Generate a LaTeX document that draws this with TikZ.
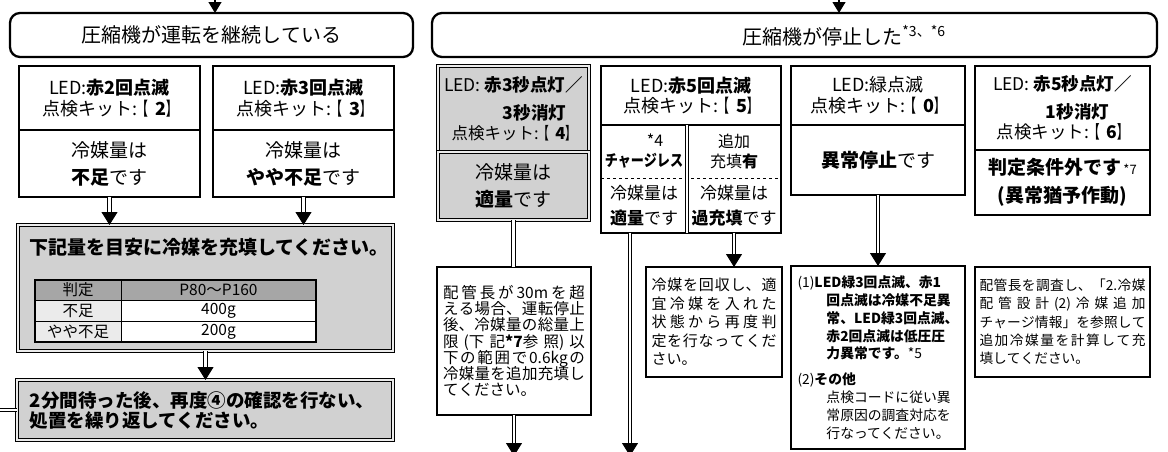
\documentclass[tikz,border=0pt]{standalone}
\usepackage{fontspec}
\setmainfont{Noto Sans CJK JP}
\usepackage{graphicx}
\usetikzlibrary{positioning, arrows.meta}

\newcommand\fshead{\fontsize{20}{27}\selectfont}
\newcommand\fsxl{\fontsize{19}{27}\selectfont\lineskiplimit=-20pt}
\newcommand\fsled{\fontsize{18}{20.5}\selectfont\lineskiplimit=-20pt}
\newcommand\fsledn{\fontsize{17.5}{20}\selectfont\lineskiplimit=-20pt}
\newcommand\fsmid{\fontsize{17}{25}\selectfont\lineskiplimit=-20pt}
\newcommand\fsnote{\fontsize{15.5}{16.3}\selectfont\lineskiplimit=-20pt}
\newcommand\fsrec{\fontsize{15}{18.5}\selectfont\lineskiplimit=-20pt}
\newcommand\fspipe{\fontsize{13.7}{18.3}\selectfont\lineskiplimit=-20pt}
\newcommand\fssm{\fontsize{13.8}{17.8}\selectfont\lineskiplimit=-20pt}
% justified Japanese lines
\newcommand\jajust{\XeTeXlinebreaklocale "ja"\XeTeXlinebreakskip=0pt plus 4pt\relax}
% kit number in narrow brackets
\newcommand\kitno[1]{\textbf{\scalebox{0.6}[1]{【}\hspace{0.4em}#1\scalebox{0.6}[1]{】}}}

\begin{document}
\begin{tikzpicture}[x=1pt, y=-1pt,
        every node/.style={inner sep=0pt, outer sep=0pt, align=center, anchor=north west},
        hdr/.style={draw, line width=2.3pt, rounded corners=10pt, font=\fshead},
        cell/.style={draw, line width=1.4pt},
        greycell/.style={draw, fill=black!18, line width=1pt, double=black!8, double distance=1.6pt},
        tcell/.style={draw, line width=0.8pt, font=\fsnote},
        dbl/.style={double, line width=1pt, double distance=2.6pt},
        dblarrow/.style={dbl, -{Triangle[width=16pt, length=13pt]}},
        arrow/.style={-{Triangle[width=13pt, length=11pt]}, line width=1.2pt}
    ]
        \useasboundingbox (0,0) rectangle (1168,451);
        \clip (0,0) rectangle (1168,451);

        % headers
        \node[hdr, minimum width=403pt, minimum height=44pt] (hdrrun) at (10,13) {圧縮機が運転を継続している};
        \node[hdr, minimum width=725pt, minimum height=44pt] (hdrstop) at (432,13) {};
        \node[anchor=center, font=\fshead] (hdrstoptxt) at (844,36) {圧縮機が停止した\textsuperscript{*3、*6}};
        \coordinate (inrun) at (215,-3);
        \coordinate (instop) at (839,-3);
        \draw[arrow] (inrun) -- (inrun |- hdrrun.north);
        \draw[arrow] (instop) -- (instop |- hdrstop.north);

        % running: LED red 2 / red 3
        \node[cell, minimum width=181pt, minimum height=64pt, font=\fsled] (led2) at (19,66) {LED:\textbf{赤2回点滅}\\点検キット:\kitno{2}};
        \node[cell, minimum width=181pt, minimum height=67pt, font=\fsxl, below=0pt of led2] (amt2) {冷媒量は\\\textbf{不足}です};
        \node[cell, minimum width=181pt, minimum height=64pt, font=\fsled] (led3) at (213,66) {LED:\textbf{赤3回点滅}\\点検キット:\kitno{3}};
        \node[cell, minimum width=181pt, minimum height=67pt, font=\fsxl, below=0pt of led3] (amt3) {冷媒量は\\\textbf{やや不足}です};

        % charge table
        \node[greycell, minimum width=375pt, minimum height=126pt] (fillbox) at (18,225) {};
        \node[anchor=center, font=\fontsize{19}{21}\selectfont\bfseries] (filltitle) at (209,247) {下記量を目安に冷媒を充填してください。};
        \node[tcell, fill=black!35, minimum width=86pt, minimum height=20pt] (thjudge) at (35,280) {判定};
        \node[tcell, fill=black!35, minimum width=195pt, minimum height=20pt, right=0pt of thjudge] (thmodel) {P80～P160};
        \node[tcell, fill=black!8, minimum width=86pt, minimum height=21pt, below=0pt of thjudge] (tshort) {不足};
        \node[tcell, fill=white, minimum width=195pt, minimum height=21pt, right=0pt of tshort] (tshortv) {400g};
        \node[tcell, fill=black!8, minimum width=86pt, minimum height=21pt, below=0pt of tshort] (tslight) {やや不足};
        \node[tcell, fill=white, minimum width=195pt, minimum height=21pt, right=0pt of tslight] (tslightv) {200g};
        \draw[line width=1.6pt] (thjudge.north west) rectangle (tslightv.south east);

        \node[greycell, minimum height=60pt, text width=350pt, inner xsep=13pt, align=left, font=\fontsize{18.5}{20}\selectfont\bfseries] (retry) at (17,380) {2分間待った後、再度④の確認を行ない、\\処置を繰り返してください。};

        % stopped: red 3s on / 3s off
        \node[greycell, minimum width=151pt, minimum height=86pt, font=\fsledn] (led4) at (438,66) {LED: \textbf{赤3秒点灯／}\\[8pt]\hspace*{42pt}\textbf{3秒消灯}\\{\fontsize{16.5}{20}\selectfont 点検キット:\kitno{4}}};
        \node[greycell, minimum width=151pt, minimum height=68pt, font=\fsxl, below=0pt of led4] (amt4) {冷媒量は\\\textbf{適量}です};
        \node[cell, minimum width=154pt, minimum height=148pt, text width=142pt, inner xsep=6pt, align=justify, font=\fsnote\jajust] (addcharge) at (437,267) {配管長が30mを超\linebreak%
            える場合、運転停止\linebreak%
            後、冷媒量の総量上\linebreak%
            限(下記\textbf{*7}参照)以\linebreak%
            下の範囲で0.6kgの\linebreak%
            冷媒量を追加充填し\linebreak%
            てください。};

        % stopped: red 5 blinks
        \node[cell, minimum width=180pt, minimum height=59pt, font=\fsled] (led5) at (601,66) {LED:\textbf{赤5回点滅}\\点検キット:\kitno{5}};
        \node[minimum width=86pt, minimum height=53pt, font=\fontsize{16}{20}\selectfont] (nocharge) at (601,125) {\hspace*{22pt}*4\\\textbf{\scalebox{0.82}[1]{チャージレス}}};
        \node[minimum width=94pt, minimum height=53pt, font=\fontsize{16}{20}\selectfont] (extra) at (687,125) {追加\\充填\textbf{有}};
        \node[minimum width=86pt, minimum height=55pt, font=\fsmid] (ok5) at (601,178) {冷媒量は\\\textbf{適量}です};
        \node[minimum width=94pt, minimum height=55pt, font=\fsmid] (over5) at (687,178) {冷媒量は\\\textbf{過充填}です};
        \draw[cell] (led5.north west) rectangle (over5.south east);
        \draw[dashed, line width=0.8pt] (ok5.north west) -- (over5.north east);
        \draw[dbl] (extra.north west) -- (over5.south west);
        \node[cell, minimum width=136pt, minimum height=110pt, text width=125pt, inner xsep=5.5pt, align=justify, font=\fsrec\jajust] (recover) at (646,267) {冷媒を回収し、適\linebreak%
            宜冷媒を入れた\linebreak%
            状態から再度判\linebreak%
            定を行なってくだ\linebreak%
            さい。};

        % stopped: green blink
        \node[cell, minimum width=174pt, minimum height=59pt, font=\fsled] (led0) at (791,66) {LED:緑点滅\\点検キット:\kitno{0}};
        \node[cell, minimum width=174pt, minimum height=70pt, font=\fsxl, below=0pt of led0] (fault) {\textbf{異常停止}です};
        \node[cell, minimum width=174pt, minimum height=183pt, align=left, font=\fssm] (faultfix) at (791,266) {(1)\textbf{LED緑3回点滅、赤1}\\
            \hspace*{2.1em}\textbf{回点滅は冷媒不足異}\\
            \hspace*{2.1em}\textbf{常、LED緑3回点滅、}\\
            \hspace*{2.1em}\textbf{赤2回点滅は低圧圧}\\
            \hspace*{2.1em}\textbf{力異常です。}*5\\[8pt]
            (2)\textbf{その他}\\
            \hspace*{2.1em}点検コードに従い異\\
            \hspace*{2.1em}常原因の調査対応を\\
            \hspace*{2.1em}行なってください。};

        % stopped: red 5s on / 1s off
        \node[cell, minimum width=175pt, minimum height=84pt, font=\fsledn] (led6) at (975,66) {LED: \textbf{赤5秒点灯／}\\[8pt]\hspace*{30pt}\textbf{1秒消灯}\\点検キット:\kitno{6}};
        \node[cell, minimum width=175pt, minimum height=65pt, font=\fontsize{19}{28}\selectfont\bfseries, below=0pt of led6] (outside) {判定条件外です{\fontsize{13}{13}\selectfont\mdseries\,*7}\\(異常猶予作動)};
        \node[cell, minimum width=175pt, minimum height=110pt, text width=166pt, inner xsep=4.5pt, align=justify, font=\fspipe\jajust] (pipecalc) at (975,267) {配管長を調査し、「2.冷媒\linebreak%
            配管設計(2)冷媒追加\linebreak%
            チャージ情報」を参照して\linebreak%
            追加冷媒量を計算して充\linebreak%
            填してください。};

        % connectors
        \coordinate (loopin) at (0,410);
        \coordinate (outF) at (513.5,456);
        \coordinate (outG) at (630,456);
        \draw[dblarrow] (amt2.south) -- (amt2.south |- fillbox.north);
        \draw[dblarrow] (amt3.south) -- (amt3.south |- fillbox.north);
        \draw[dblarrow] (fillbox.south) -- (fillbox.south |- retry.north);
        \draw[dbl] (loopin) -- (retry.west);
        \draw[dbl] (amt4.south) -- (amt4.south |- addcharge.north);
        \draw[dblarrow] (addcharge.south) -- (addcharge.south |- outF);
        \draw[dblarrow] (ok5.south -| outG) -- (outG);
        \draw[dblarrow] (over5.south) -- (over5.south |- recover.north);
        \draw[dblarrow] (fault.south) -- (fault.south |- faultfix.north);
    \end{tikzpicture}
\end{document}
